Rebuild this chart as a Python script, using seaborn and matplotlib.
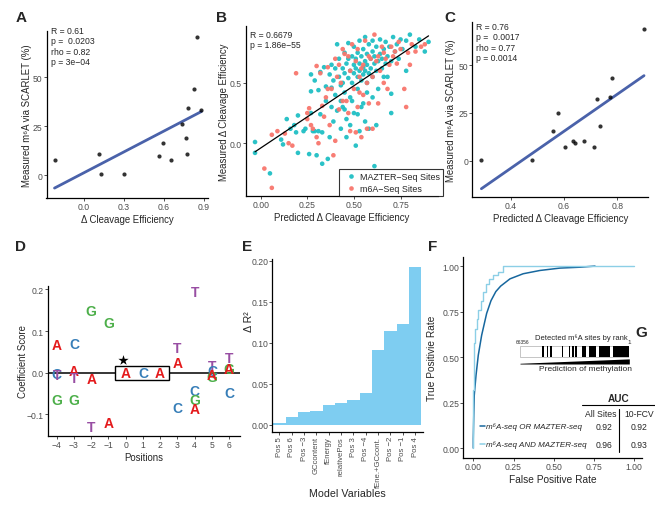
import matplotlib
matplotlib.use("Agg")
import numpy as np
import pandas as pd
import matplotlib.pyplot as plt
from matplotlib.patches import Rectangle
import seaborn as sns

# ---------------- data ----------------
# A: measured m6A (SCARLET) vs measured delta cleavage efficiency
a_delta_ce = [-0.22, 0.115, 0.13, 0.30, 0.56, 0.59, 0.655, 0.735, 0.765, 0.775, 0.78, 0.825, 0.85, 0.88]
a_scarlet = [7.6, 10.9, 0.7, 0.7, 9.9, 16.3, 7.6, 25.9, 18.9, 10.9, 34.0, 44.0, 70.6, 33.0]

# C: measured m6A (SCARLET) vs predicted delta cleavage efficiency
c_pred_ce = [0.29, 0.478, 0.559, 0.576, 0.604, 0.635, 0.64, 0.676, 0.714, 0.724, 0.734, 0.772, 0.78, 0.90]
c_scarlet = [0.4, 0.4, 15.7, 25.2, 7.3, 10.1, 9.3, 10.3, 7.3, 32.3, 18.4, 33.2, 43.2, 69.1]

# B: predicted vs measured delta cleavage efficiency (estimated from figure)
mazter_pts = [(-0.03, 0.01), (-0.03, -0.08), (0.05, -0.25), (0.11, 0.03), (0.12, -0.01), (0.14, 0.2),
              (0.16, 0.12), (0.18, 0.15), (0.19, 0.09), (0.2, 0.23), (0.2, -0.08), (0.23, 0.1),
              (0.24, 0.12), (0.26, -0.09), (0.27, 0.57), (0.27, 0.43), (0.28, 0.1), (0.29, 0.1),
              (0.3, -0.1), (0.31, 0.44), (0.31, 0.1), (0.32, 0.59), (0.32, 0.24), (0.33, 0.09),
              (0.33, -0.17), (0.34, 0.63), (0.35, 0.35), (0.36, -0.13), (0.37, 0.05), (0.37, 0.57),
              (0.38, 0.46), (0.38, 0.3), (0.39, 0.52), (0.39, 0.18), (0.4, 0.62), (0.4, 0.4),
              (0.41, 0.82), (0.41, 0.27), (0.42, 0.55), (0.42, 0.7), (0.43, 0.48), (0.43, 0.35),
              (0.43, 0.12), (0.44, 0.62), (0.44, 0.3), (0.45, 0.58), (0.45, 0.75), (0.45, 0.42),
              (0.46, 0.66), (0.46, 0.2), (0.46, 0.05), (0.47, 0.54), (0.47, 0.83), (0.47, 0.7),
              (0.48, 0.6), (0.48, 0.38), (0.48, 0.15), (0.49, 0.72), (0.49, 0.5), (0.5, 0.65),
              (0.5, 0.58), (0.5, 0.8), (0.5, 0.25), (0.51, 0.62), (0.51, 0.7), (0.51, -0.02),
              (0.52, 0.55), (0.52, 0.75), (0.52, 0.45), (0.53, 0.6), (0.53, 0.66), (0.53, 0.85),
              (0.53, 0.1), (0.54, 0.52), (0.54, 0.72), (0.54, 0.3), (0.55, 0.63), (0.55, 0.78),
              (0.55, 0.57), (0.56, 0.68), (0.56, 0.6), (0.56, 0.88), (0.56, 0.18), (0.57, 0.74),
              (0.57, 0.5), (0.57, 0.65), (0.58, 0.82), (0.58, 0.58), (0.58, 0.12), (0.59, 0.7),
              (0.59, 0.62), (0.6, 0.76), (0.6, 0.55), (0.6, 0.85), (0.61, 0.66), (0.61, -0.19),
              (0.61, 0.72), (0.62, 0.6), (0.62, 0.8), (0.63, 0.68), (0.63, 0.45), (0.64, 0.74),
              (0.64, 0.86), (0.65, 0.62), (0.65, 0.7), (0.66, 0.78), (0.66, 0.55), (0.67, 0.84),
              (0.67, 0.66), (0.68, 0.72), (0.69, 0.8), (0.7, 0.25), (0.7, 0.41), (0.7, 0.68),
              (0.71, 0.88), (0.72, 0.76), (0.73, 0.82), (0.74, 0.7), (0.75, 0.86), (0.76, 0.78),
              (0.78, 0.85), (0.8, 0.9), (0.83, 0.8), (0.85, 0.86), (0.88, 0.76), (0.9, 0.84),
              (0.27, 0.25), (0.29, 0.52), (0.35, 0.47), (0.38, 0.65), (0.44, 0.5), (0.45, 0.28),
              (0.49, 0.35), (0.52, 0.24), (0.55, 0.33), (0.57, 0.42), (0.6, 0.38), (0.62, 0.15),
              (0.68, 0.55), (0.78, 0.6)]
m6a_pts = [(0.02, -0.21), (0.06, -0.37), (0.06, 0.07), (0.09, 0.1), (0.13, 0.08), (0.15, 0.0),
           (0.17, -0.02), (0.19, 0.58), (0.25, 0.25), (0.25, 0.2), (0.26, 0.29), (0.27, 0.15),
           (0.28, 0.12), (0.3, 0.05), (0.3, 0.64), (0.31, 0.0), (0.32, 0.58), (0.33, 0.31),
           (0.34, 0.22), (0.35, 0.38), (0.36, 0.63), (0.37, 0.15), (0.38, 0.45), (0.39, -0.1),
           (0.4, 0.02), (0.4, 0.7), (0.41, 0.55), (0.42, 0.65), (0.43, 0.5), (0.44, 0.35),
           (0.44, 0.78), (0.45, 0.74), (0.46, 0.35), (0.47, 0.25), (0.48, 0.1), (0.48, 0.6),
           (0.49, 0.82), (0.5, 0.45), (0.51, 0.09), (0.51, 0.68), (0.52, 0.3), (0.52, 0.78),
           (0.53, 0.55), (0.54, 0.05), (0.54, 0.62), (0.55, 0.65), (0.55, 0.4), (0.56, 0.85),
           (0.57, 0.5), (0.57, 0.12), (0.58, 0.33), (0.58, 0.72), (0.59, 0.7), (0.6, 0.55),
           (0.61, 0.9), (0.62, 0.68), (0.63, 0.33), (0.63, 0.72), (0.64, 0.6), (0.65, 0.8),
           (0.66, 0.75), (0.66, 0.5), (0.67, 0.7), (0.68, 0.45), (0.69, 0.65), (0.7, 0.8),
           (0.71, 0.72), (0.72, 0.76), (0.73, 0.66), (0.74, 0.84), (0.75, 0.78), (0.77, 0.45),
           (0.78, 0.3), (0.79, 0.75), (0.8, 0.65), (0.81, 0.82), (0.83, 0.76), (0.86, 0.8),
           (0.88, 0.82), (0.47, 0.72), (0.53, 0.42), (0.6, 0.12), (0.42, 0.28), (0.36, 0.45)]

# D: coefficient scores per position and base
d_pos = [-4, -4, -4, -4, -3, -3, -3, -3, -2, -2, -2, -1, -1,
         3, 3, 3, 4, 4, 4, 4, 5, 5, 5, 5, 6, 6, 6, 6]
d_base = ['A', 'C', 'T', 'G', 'C', 'A', 'T', 'G', 'G', 'A', 'T', 'G', 'A',
          'T', 'A', 'C', 'T', 'C', 'G', 'A', 'T', 'C', 'G', 'A', 'T', 'G', 'A', 'C']
d_score = [0.066, -0.003, -0.005, -0.065, 0.068, 0.004, -0.012, -0.065, 0.148, -0.015, -0.13, 0.118, -0.12,
           0.059, 0.022, -0.085, 0.194, -0.045, -0.065, -0.087, 0.017, 0.005, -0.01, -0.006,
           0.035, 0.008, 0.008, -0.049]
d_motif = ['A', 'C', 'A']
d_motif_pos = [0, 1, 2]
base_colors = {'A': '#e41a1c', 'C': '#377eb8', 'G': '#4daf4a', 'T': '#984ea3'}

# E: delta R^2 per model variable
e_vars = ['Pos 5', 'Pos 6', 'Pos \u22123', 'GCcontent', 'fEnergy', 'relativePos', 'Pos 3',
          'Pos \u22124', 'fEne.+GCcont.', 'Pos \u22122', 'Pos \u22121', 'Pos 4']
e_delta_r2 = [0.0024, 0.0093, 0.0158, 0.017, 0.024, 0.027, 0.030, 0.039, 0.091, 0.114, 0.1225, 0.192]

# F: ROC curves
roc_or_fpr = [0.0, 0.0, 0.003, 0.006, 0.017, 0.031, 0.052, 0.083, 0.11, 0.14, 0.17, 0.228, 0.31, 0.414, 0.538, 0.663, 0.756]
roc_or_tpr = [0.0, 0.05, 0.18, 0.29, 0.40, 0.51, 0.62, 0.74, 0.81, 0.86, 0.89, 0.93, 0.958, 0.976, 0.989, 0.994, 1.0]
roc_and_fpr = [0.0, 0.0, 0.003, 0.006, 0.012, 0.02, 0.03, 0.045, 0.062, 0.08, 0.1, 0.125, 0.155, 0.185, 0.197, 1.0]
roc_and_tpr = [0.0, 0.16, 0.32, 0.51, 0.58, 0.655, 0.71, 0.76, 0.81, 0.86, 0.90, 0.93, 0.95, 0.97, 1.0, 1.0]
auc_labels = ['m\u2076A-seq OR MAZTER-seq', 'm\u2076A-seq AND MAZTER-seq']
auc_all = ['0.92', '0.96']
auc_fcv = ['0.92', '0.93']

# G: detected sites along predicted rank (fraction of rank axis, 66356 -> 1)
g_start = [0.198, 0.248, 0.278, 0.385, 0.445, 0.475, 0.505, 0.565, 0.628, 0.725, 0.848]
g_end = [0.218, 0.257, 0.291, 0.394, 0.462, 0.492, 0.522, 0.602, 0.696, 0.826, 1.0]

# ---------------- style ----------------
sns.set_theme(style="ticks")
plt.rcParams['font.family'] = ['Liberation Sans', 'DejaVu Sans']
plt.rcParams['axes.unicode_minus'] = True

W, H = 655, 506
fig = plt.figure(figsize=(6.55, 5.06), dpi=100)
label_fs = 6.9
tick_fs = 6.2
stat_fs = 6.2


def px_axes(l, t, r, b):
    return fig.add_axes([l / W, 1 - b / H, (r - l) / W, (b - t) / H])


def style(ax, xlabel, ylabel, ylab_x, fs=label_fs):
    sns.despine(ax=ax)
    for s in ['left', 'bottom']:
        ax.spines[s].set_linewidth(0.9)
        ax.spines[s].set_color('black')
    ax.tick_params(labelsize=tick_fs, labelcolor='#4d4d4d', color='#333333', length=2, width=0.6, pad=1)
    ax.set_xlabel(xlabel, fontsize=fs, labelpad=2)
    ax.set_ylabel(ylabel, fontsize=fs)
    ax.yaxis.set_label_coords(ylab_x, 0.5)
    ax.set_facecolor('white')


def panel_label(x, y, s):
    fig.text(x / W, 1 - y / H, s, fontsize=11, fontweight='bold', ha='center', va='center')


reg_color = '#4a62aa'

# ---- A ----
axA = px_axes(46.5, 32, 208, 199)
sns.regplot(x=a_delta_ce, y=a_scarlet, ax=axA, ci=None,
            scatter_kws=dict(color='black', s=9, linewidths=0, zorder=3),
            line_kws=dict(color=reg_color, lw=2))
axA.set_xlim(-0.28, 0.93)
axA.set_ylim(-11.7, 73.5)
axA.set_xticks([0.0, 0.3, 0.6, 0.9], ['0.0', '0.3', '0.6', '0.9'])
axA.set_yticks([0, 25, 50])
style(axA, '\u0394 Cleavage Efficiency', 'Measured m\u2076A via SCARLET (%)', -0.09)
axA.text(0.025, 1.03, 'R = 0.61\np =  0.0203\nrho = 0.82\np = 3e\u221204', transform=axA.transAxes,
         fontsize=stat_fs, va='top', ha='left', linespacing=1.2)

# ---- B ----
axB = px_axes(245.7, 26.7, 437.5, 197.3)
dfB = pd.concat([
    pd.DataFrame(mazter_pts, columns=['pred', 'meas']).assign(src='MAZTER\u2212Seq Sites'),
    pd.DataFrame(m6a_pts, columns=['pred', 'meas']).assign(src='m6A\u2212Seq Sites'),
], ignore_index=True)
sns.scatterplot(data=dfB, x='pred', y='meas', hue='src', ax=axB, s=11, linewidth=0,
                palette=['#1fbfc4', '#f8766d'], alpha=0.95)
sns.regplot(data=dfB, x='pred', y='meas', ax=axB, ci=None, scatter=False,
            line_kws=dict(color='black', lw=0.9))
axB.set_xlim(-0.08, 0.948)
axB.set_ylim(-0.44, 0.974)
axB.set_xticks([0.0, 0.25, 0.5, 0.75], ['0.00', '0.25', '0.50', '0.75'])
axB.set_yticks([0.0, 0.5], ['0.0', '0.5'])
style(axB, 'Predicted \u0394 Cleavage Efficiency', 'Measured \u0394 Cleavage Efficiency', -0.085)
axB.text(0.025, 0.975, 'R = 0.6679\np = 1.86e\u221255', transform=axB.transAxes,
         fontsize=stat_fs, va='top', ha='left', linespacing=1.2)
leg = axB.legend(loc='lower right', bbox_to_anchor=((443 - 245.7) / 191.8, 0.003), fontsize=6.4,
                 frameon=True, fancybox=False, edgecolor='black', handletextpad=0.0,
                 borderpad=0.35, labelspacing=0.25, markerscale=1.0, borderaxespad=0)
leg.get_frame().set_linewidth(0.8)

# ---- C ----
axC = px_axes(472.3, 23, 648.3, 198.3)
sns.regplot(x=c_pred_ce, y=c_scarlet, ax=axC, ci=None,
            scatter_kws=dict(color='black', s=9, linewidths=0, zorder=3),
            line_kws=dict(color=reg_color, lw=2))
axC.set_xlim(0.256, 0.916)
axC.set_ylim(-19.2, 72.7)
axC.set_xticks([0.4, 0.6, 0.8], ['0.4', '0.6', '0.8'])
axC.set_yticks([0, 25, 50])
style(axC, 'Predicted \u0394 Cleavage Efficiency', 'Measured m\u2076A via SCARLET (%)', -0.09)
axC.text(0.02, 1.0, 'R = 0.76\np =  0.0017\nrho = 0.77\np = 0.0014', transform=axC.transAxes,
         fontsize=stat_fs, va='top', ha='left', linespacing=1.2)

# ---- D ----
axD = px_axes(47.7, 287, 240, 437)
axD.set_xlim(-4.52, 6.63)
axD.set_ylim(-0.152, 0.208)
axD.axhline(0, color='black', lw=1.1, zorder=1)
for p, b, s in zip(d_pos, d_base, d_score):
    axD.text(p, s, b, color=base_colors[b], fontsize=10, fontweight='bold', ha='center', va='center')
for p, b in zip(d_motif_pos, d_motif):
    axD.text(p, 0, b, color=base_colors[b], fontsize=10, fontweight='bold', ha='center', va='center', zorder=4)
axD.add_patch(Rectangle((-0.6, -0.018), 3.13, 0.034, fill=True, facecolor='white',
                        edgecolor='black', lw=1.0, zorder=3))
sns.scatterplot(x=[-0.14], y=[0.03], marker='*', s=60, color='black', ax=axD, linewidth=0)
axD.set_xticks(range(-4, 7))
axD.set_yticks([-0.1, 0.0, 0.1, 0.2], ['\u22120.1', '0.0', '0.1', '0.2'])
style(axD, 'Positions', 'Coefficient Score', -0.105)

# ---- E ----
axE = px_axes(272.3, 260, 423, 432.7)
sns.barplot(x=e_vars, y=e_delta_r2, ax=axE, color='#7ecdf1', saturation=1, width=1, linewidth=0)
axE.set_xlim(-0.58, 11.64)
axE.set_ylim(-0.0082, 0.202)
axE.set_yticks([0, 0.05, 0.10, 0.15, 0.20], ['0.00', '0.05', '0.10', '0.15', '0.20'])
style(axE, 'Model Variables', '\u0394 R\u00b2', -0.108, fs=7.7)
axE.tick_params(axis='x', labelrotation=90, labelsize=5.6)
axE.xaxis.set_label_coords(0.5, (432.7 - 489) / 172.7)
axE.yaxis.set_label_coords(-0.12, 0.64)

# ---- F ----
axF = px_axes(463.3, 258, 641.7, 458.7)
sns.lineplot(x=roc_or_fpr, y=roc_or_tpr, ax=axF, color='#17679e', lw=1.1, sort=False,
             estimator=None)
sns.lineplot(x=roc_and_fpr, y=roc_and_tpr, ax=axF, color='#8ccfe6', lw=1.0, sort=False,
             estimator=None, drawstyle='steps-pre')
axF.set_xlim(-0.062, 1.046)
axF.set_ylim(-0.053, 1.05)
ticksF = [0, 0.25, 0.5, 0.75, 1.0]
axF.set_xticks(ticksF, ['0.00', '0.25', '0.50', '0.75', '1.00'])
axF.set_yticks(ticksF, ['0.00', '0.25', '0.50', '0.75', '1.00'])
style(axF, 'False Positive Rate', 'True Positivie Rate', -0.15, fs=7.3)
# AUC table
row_y = [0.119, 0.022]
for y, lab, a1, a2, c in zip(row_y, auc_labels, auc_all, auc_fcv, ['#17679e', '#8ccfe6']):
    axF.plot([0.041, 0.072], [y, y], color=c, lw=1.1)
    axF.text(0.078, y, lab, fontsize=5.8, style='italic', va='center', ha='left')
    axF.text(0.81, y, a1, fontsize=6.2, va='center', ha='center')
    axF.text(1.029, y, a2, fontsize=6.2, va='center', ha='center', clip_on=False)
axF.text(0.90, 0.273, 'AUC', fontsize=7.2, fontweight='bold', ha='center', va='center')
axF.text(0.79, 0.19, 'All Sites', fontsize=6.2, ha='center', va='center')
axF.text(1.029, 0.19, '10-FCV', fontsize=6.2, ha='center', va='center', clip_on=False)
axF.plot([0.673, 1.128], [0.2385, 0.2385], color='black', lw=0.8, clip_on=False)
axF.plot([0.907, 0.907], [0.215, -0.02], color='black', lw=0.8)

# ---- G inset ----
axG = px_axes(520, 346.7, 629.3, 365)
axG.set_xlim(0, 1)
axG.set_ylim(0, 1)
axG.axis('off')
axG.add_patch(Rectangle((0, 0.4), 1, 0.6, fill=False, edgecolor='#bbbbbb', lw=0.6))
g_width = [e - s for s, e in zip(g_start, g_end)]
axG.bar(x=g_start, height=0.6, width=g_width, bottom=0.4, align='edge', color='black', linewidth=0)
xw = np.linspace(0, 1, 50)
axG.fill_between(xw, 0, 0.04 + 0.24 * xw, color='black', lw=0)
axG.text(0.56, 1.25, 'Detected m\u2076A sites by rank', fontsize=5.5, ha='center', va='bottom',
         transform=axG.transAxes)
axG.text(-0.04, 1.12, '66356', fontsize=3.5, ha='left', va='bottom', transform=axG.transAxes)
axG.text(1.0, 1.12, '1', fontsize=4.5, ha='center', va='bottom', transform=axG.transAxes)
axG.text(0.6, -0.05, 'Prediction of methylation', fontsize=6, ha='center', va='top',
         transform=axG.transAxes)

# ---- panel labels ----
panel_label(20.7, 18.3, 'A')
panel_label(221.7, 18.3, 'B')
panel_label(450, 18.3, 'C')
panel_label(20, 246.7, 'D')
panel_label(247.3, 246.7, 'E')
panel_label(432.3, 246.7, 'F')
panel_label(641.7, 332.7, 'G')

fig.savefig('out.png', dpi=100, facecolor='white')
